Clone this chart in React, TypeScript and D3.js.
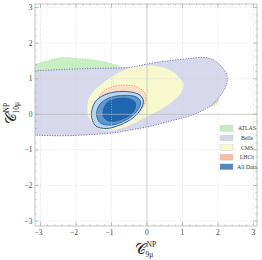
import { useEffect, useRef } from 'react';
import * as d3 from 'd3';

type Pt = [number, number];

// contour outlines, in (C9, C10) units
const atlas: Pt[] = [
  [-3.58, 1.3], [-3.15, 1.4], [-2.83, 1.5], [-2.54, 1.57], [-2.36, 1.59], [-1.98, 1.57],
  [-1.42, 1.51], [-0.95, 1.41], [-0.57, 1.29], [0.08, 1.36], [1.21, 1.47], [1.77, 1.36],
  [2.0, 0.96], [2.03, 0.51], [1.97, 0.3], [1.63, 0.18], [0.65, -0.08], [-1.32, -0.38],
  [-3.01, -0.44], [-3.86, -0.16],
];

const belle: Pt[] = [
  [-3.58, 1.19], [-3.15, 1.22], [-2.17, 1.27], [-1.42, 1.29], [-0.48, 1.32], [0.08, 1.43],
  [0.65, 1.51], [1.21, 1.57], [1.58, 1.6], [1.86, 1.53], [2.1, 1.34], [2.25, 1.1],
  [2.26, 0.92], [2.17, 0.68], [2.01, 0.45], [1.82, 0.26], [1.49, 0.07], [1.12, -0.07],
  [0.65, -0.19], [0.08, -0.34], [-0.48, -0.44], [-0.85, -0.51], [-1.42, -0.56],
  [-2.17, -0.6], [-2.73, -0.6], [-3.15, -0.58], [-3.58, -0.52], [-3.86, 0.4],
];

const cms: Pt[] = [
  [-1.68, 0.18], [-1.63, 0.46], [-1.44, 0.71], [-1.13, 0.96], [-0.76, 1.19], [-0.34, 1.33],
  [0.08, 1.37], [0.51, 1.3], [0.85, 1.1], [1.03, 0.85], [0.96, 0.6], [0.73, 0.37],
  [0.37, 0.12], [-0.06, -0.1], [-0.48, -0.3], [-0.85, -0.43], [-1.24, -0.44],
  [-1.52, -0.27], [-1.65, -0.05],
];

const lhcb: Pt[] = [
  [-1.42, 0.3], [-1.27, 0.61], [-0.99, 0.77], [-0.62, 0.82], [-0.28, 0.77], [-0.06, 0.6],
  [-0.04, 0.37], [-0.19, 0.09], [-0.5, -0.14], [-0.9, -0.32], [-1.2, -0.36],
  [-1.45, -0.2], [-1.5, 0.05],
];

const allData3sigma: Pt[] = [
  [-1.56, 0.06], [-1.46, 0.35], [-1.21, 0.54], [-0.87, 0.63], [-0.48, 0.63], [-0.2, 0.54],
  [-0.1, 0.37], [-0.17, 0.15], [-0.39, -0.1], [-0.76, -0.3], [-1.15, -0.4],
  [-1.44, -0.33], [-1.55, -0.13],
];

const allData2sigma: Pt[] = [
  [-1.42, 0.01], [-1.32, 0.29], [-1.04, 0.47], [-0.65, 0.53], [-0.31, 0.49], [-0.18, 0.35],
  [-0.28, 0.09], [-0.59, -0.16], [-1.01, -0.3], [-1.32, -0.24],
];

const allData1sigma: Pt[] = [
  [-1.24, 0.06], [-1.13, 0.32], [-0.85, 0.44], [-0.51, 0.44], [-0.32, 0.32], [-0.39, 0.06],
  [-0.68, -0.13], [-1.04, -0.2], [-1.21, -0.1],
];

const tickValues = [-3, -2, -1, 0, 1, 2, 3];
const legendLabels = ['ATLAS', 'Belle', 'CMS', 'LHCb', 'All Data'];

export default function App() {
  const ref = useRef<SVGSVGElement>(null);

  useEffect(() => {
    const svg = d3.select(ref.current);
    svg.selectAll('*').remove();

    const width = 262;
    const height = 260;
    const left = 35, right = 257, top = 4, bottom = 226;

    svg.attr('width', width).attr('height', height);

    const x = d3.scaleLinear().domain([-3.155, 3.1]).range([left, right]);
    const y = d3.scaleLinear().domain([-3.14, 3.1]).range([bottom, top]);

    const serif = 'Liberation Serif, Times New Roman, serif';

    const defs = svg.append('defs');
    defs.append('clipPath').attr('id', 'frame')
      .append('rect')
      .attr('x', left).attr('y', top)
      .attr('width', right - left).attr('height', bottom - top);

    svg.append('rect')
      .attr('x', left).attr('y', top)
      .attr('width', right - left).attr('height', bottom - top)
      .attr('fill', '#fff');

    const line = d3.line<Pt>()
      .curve(d3.curveCatmullRomClosed.alpha(0.5))
      .x((d) => x(d[0]))
      .y((d) => y(d[1]));

    const g = svg.append('g').attr('clip-path', 'url(#frame)');

    // experiment regions
    g.append('path').attr('d', line(atlas))
      .attr('fill', '#c8efc2')
      .attr('stroke', '#8fd48a').attr('stroke-width', 0.7).attr('stroke-dasharray', '1.2,1.2');

    g.append('path').attr('d', line(belle))
      .attr('fill', '#d8d8ec')
      .attr('stroke', '#6f6fb8').attr('stroke-width', 0.9).attr('stroke-dasharray', '1.3,1.3');

    g.append('path').attr('d', line(cms))
      .attr('fill', '#f8f8cf');

    g.append('path').attr('d', line(lhcb))
      .attr('fill', '#fbdcc6')
      .attr('stroke', '#f0906e').attr('stroke-width', 0.9).attr('stroke-dasharray', '1.3,1.3');

    // combined fit, 3 / 2 / 1 sigma
    g.append('path').attr('d', line(allData3sigma))
      .attr('fill', '#bcd6ef').attr('stroke', '#1d4f93').attr('stroke-width', 0.9);
    g.append('path').attr('d', line(allData2sigma))
      .attr('fill', '#5f98cf').attr('stroke', '#1d4f93').attr('stroke-width', 0.8);
    g.append('path').attr('d', line(allData1sigma))
      .attr('fill', '#1f66b1').attr('stroke', '#1d4f93').attr('stroke-width', 0.6);

    // grid
    const grid = svg.append('g');
    tickValues.filter((t) => t !== 0).forEach((t) => {
      grid.append('line')
        .attr('x1', x(t)).attr('x2', x(t)).attr('y1', top).attr('y2', bottom)
        .attr('stroke', '#cfcfcf').attr('stroke-width', 0.6).attr('stroke-dasharray', '1,1.5');
      grid.append('line')
        .attr('y1', y(t)).attr('y2', y(t)).attr('x1', left).attr('x2', right)
        .attr('stroke', '#cfcfcf').attr('stroke-width', 0.6).attr('stroke-dasharray', '1,1.5');
    });
    grid.append('line')
      .attr('x1', x(0)).attr('x2', x(0)).attr('y1', top).attr('y2', bottom)
      .attr('stroke', '#b8b8b8').attr('stroke-opacity', 0.7).attr('stroke-width', 1);
    grid.append('line')
      .attr('y1', y(0)).attr('y2', y(0)).attr('x1', left).attr('x2', right)
      .attr('stroke', '#b8b8b8').attr('stroke-opacity', 0.7).attr('stroke-width', 1);

    // frame with inward ticks
    const frame = svg.append('g');
    frame.append('rect')
      .attr('x', left).attr('y', top)
      .attr('width', right - left).attr('height', bottom - top)
      .attr('fill', 'none').attr('stroke', '#b4b4b4').attr('stroke-width', 0.8);

    const minor = d3.range(-3, 3.001, 0.2);
    minor.forEach((t) => {
      const major = Math.abs(t - Math.round(t)) < 1e-6;
      const len = major ? 3.5 : 1.8;
      const w = major ? 0.7 : 0.5;
      frame.append('line').attr('x1', x(t)).attr('x2', x(t)).attr('y1', bottom).attr('y2', bottom - len)
        .attr('stroke', '#a0a0a0').attr('stroke-width', w);
      frame.append('line').attr('x1', x(t)).attr('x2', x(t)).attr('y1', top).attr('y2', top + len)
        .attr('stroke', '#a0a0a0').attr('stroke-width', w);
      frame.append('line').attr('y1', y(t)).attr('y2', y(t)).attr('x1', left).attr('x2', left + len)
        .attr('stroke', '#a0a0a0').attr('stroke-width', w);
      frame.append('line').attr('y1', y(t)).attr('y2', y(t)).attr('x1', right).attr('x2', right - len)
        .attr('stroke', '#a0a0a0').attr('stroke-width', w);
    });

    const fmt = (t: number) => (t < 0 ? '\u2212' + Math.abs(t) : String(t));

    frame.selectAll('text.xt').data(tickValues).enter().append('text')
      .attr('x', (d) => x(d) - (d < 0 ? 2 : 0)).attr('y', 234.5)
      .attr('text-anchor', 'middle')
      .attr('font-family', serif).attr('font-size', 7.5).attr('fill', '#444')
      .text(fmt);

    frame.selectAll('text.yt').data(tickValues).enter().append('text')
      .attr('x', 32.5).attr('y', (d) => y(d) + 2.6)
      .attr('text-anchor', 'end')
      .attr('font-family', serif).attr('font-size', 7.5).attr('fill', '#444')
      .text(fmt);

    // axis titles: script C with NP superscript and 9mu / 10mu subscript
    const axisTitle = (tx: string, sub: string) => {
      const t = svg.append('g').attr('transform', tx);
      const c = t.append('text')
        .attr('x', 0).attr('y', 0)
        .attr('font-family', serif).attr('font-size', 15).attr('fill', '#222')
        .text('\u{1D49E}');
      const node = c.node() as SVGTextElement;
      const w = node.getComputedTextLength();
      t.append('text')
        .attr('x', w + 0.5).attr('y', -6.5)
        .attr('font-family', serif).attr('font-size', 7.5).attr('fill', '#222')
        .text('NP');
      t.append('text')
        .attr('x', w - 0.5).attr('y', 3)
        .attr('font-family', serif).attr('font-size', 7.5).attr('fill', '#222')
        .text(sub);
    };
    axisTitle('translate(135,253.5)', '9\u03bc');
    axisTitle('translate(15.5,124) rotate(-90)', '10\u03bc');

    // legend
    const legendColors = ['#c5ecc0', '#d7d7ec', '#fafac8', '#f9bda4', '#5585bd'];
    const lg = svg.append('g');
    legendLabels.forEach((label, i) => {
      const ly = 125.5 + i * 9.6;
      lg.append('rect')
        .attr('x', 220).attr('y', ly).attr('width', 13).attr('height', 5.8)
        .attr('fill', legendColors[i]).attr('stroke', '#bbb').attr('stroke-width', 0.3);
      lg.append('text')
        .attr('x', 247).attr('y', ly + 4.8)
        .attr('text-anchor', 'middle')
        .attr('font-family', serif).attr('font-size', 5.8).attr('fill', '#333')
        .text(label);
    });
  }, []);

  return <svg ref={ref} style={{ position: 'absolute', left: 0, top: 0 }}></svg>;
}
